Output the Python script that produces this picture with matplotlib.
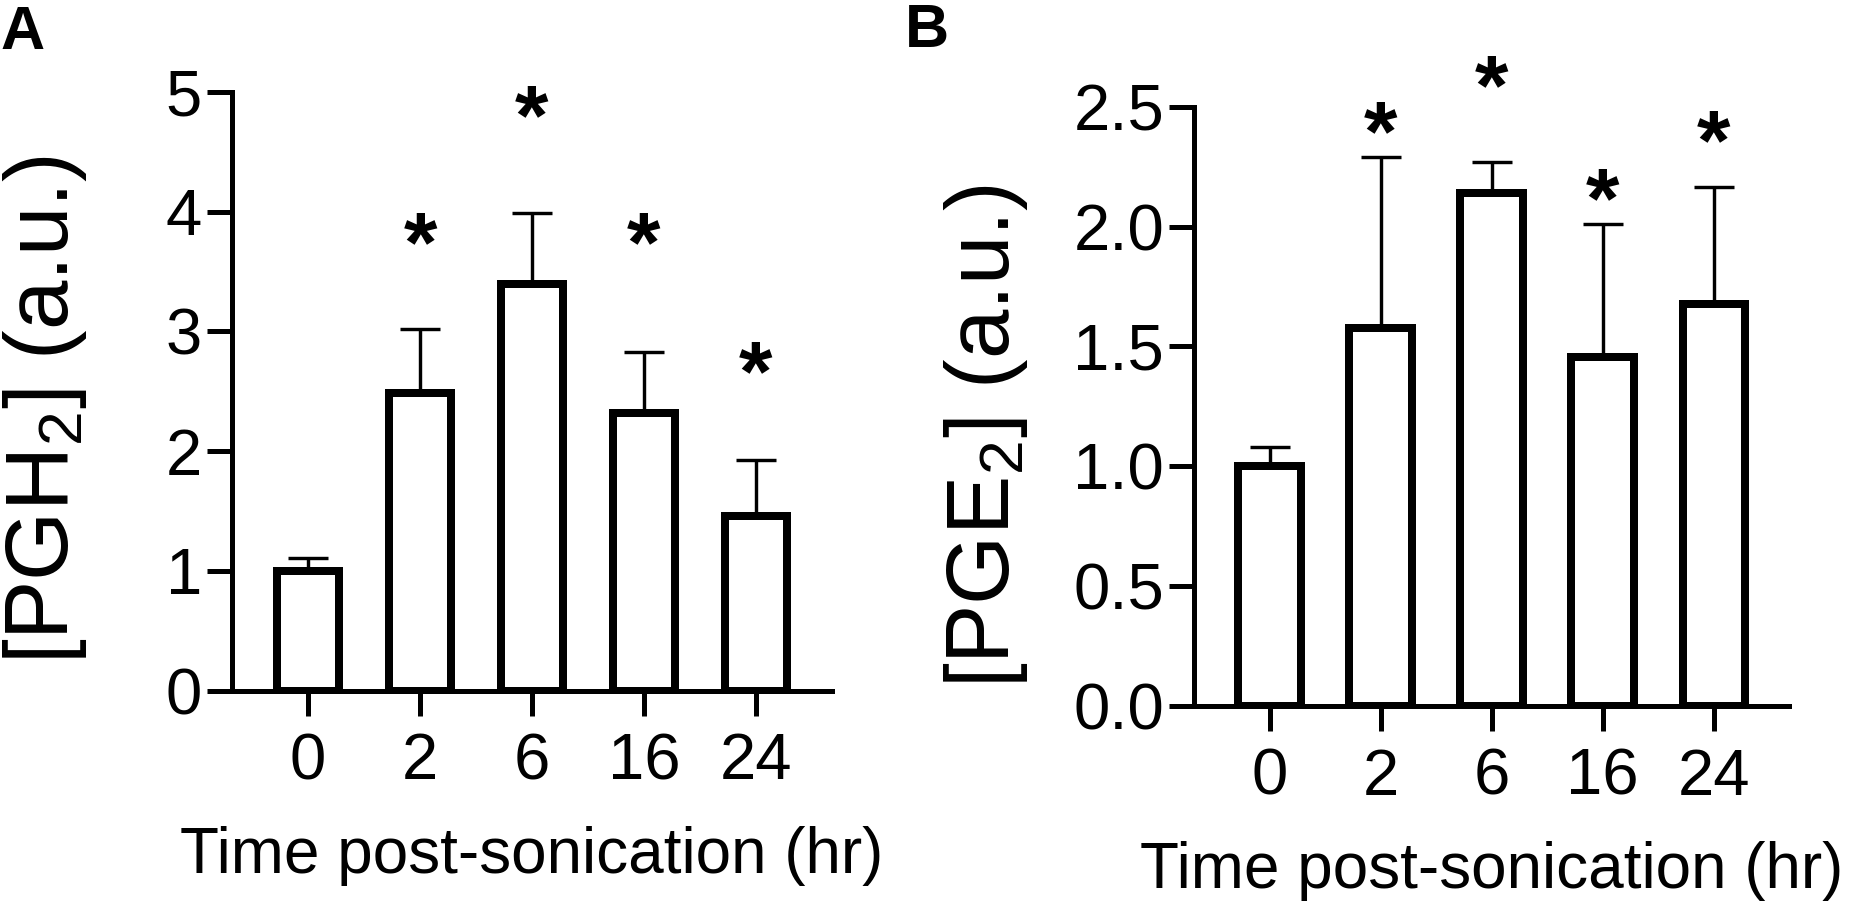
import numpy as np
import matplotlib
matplotlib.use('Agg')
import matplotlib.pyplot as plt
from matplotlib.transforms import offset_copy

plt.rcParams['font.family'] = ['Liberation Sans', 'DejaVu Sans']
plt.rcParams['mathtext.fontset'] = 'custom'
plt.rcParams['mathtext.rm'] = 'Liberation Sans'

# data
time_labels = ['0', '2', '6', '16', '24']

pgh2_mean = [1.00, 2.49, 3.40, 2.32, 1.46]
pgh2_err = [0.11, 0.53, 0.59, 0.51, 0.47]
pgh2_star = [None, 3.85, 4.91, 3.85, 2.77]

pge2_mean = [1.00, 1.575, 2.14, 1.457, 1.675]
pge2_err = [0.08, 0.715, 0.13, 0.553, 0.49]
pge2_star = [None, 2.45, 2.64, 2.17, 2.41]

DPI = 100
PX = 72.0 / DPI  # points per pixel

fig = plt.figure(figsize=(18.53, 9.10), dpi=DPI)
axA = fig.add_axes([0.1252, 0.2410, 0.3238, 0.6579])
axB = fig.add_axes([0.6444, 0.2242, 0.3211, 0.6585])


def draw_panel(ax, means, errs, stars, ylim, yticks, yfmt, ylabel, label_xy):
    x = np.arange(len(means))
    ax.errorbar(x, means, yerr=[np.zeros(len(errs)), errs], fmt='none',
                ecolor='black', elinewidth=3.4 * PX, capsize=20 * PX,
                capthick=3.4 * PX, zorder=1)
    ax.bar(x, means, width=0.56, color='white', edgecolor='black',
           linewidth=8 * PX, zorder=2)

    # significance stars, glyph centre placed on the value
    star_fs = 62
    tr = offset_copy(ax.transData, fig=fig, y=-0.48 * star_fs, units='points')
    for xi, s in zip(x, stars):
        if s is not None:
            ax.text(xi, s, '*', ha='center', va='baseline', fontsize=star_fs,
                    fontweight='bold', transform=tr, zorder=3)

    ax.set_xlim(-0.68, len(means) - 1 + 0.68)
    ax.set_ylim(*ylim)
    ax.set_xticks(x)
    ax.set_xticklabels(time_labels)
    ax.set_yticks(yticks)
    ax.set_yticklabels([yfmt.format(v) for v in yticks])

    for side in ['top', 'right']:
        ax.spines[side].set_visible(False)
    for side in ['left', 'bottom']:
        ax.spines[side].set_linewidth(5 * PX)
        ax.spines[side].set_capstyle('projecting')
    ax.tick_params(axis='both', length=25 * PX, width=5 * PX,
                   labelsize=47, direction='out')
    ax.tick_params(axis='y', pad=3.5)
    ax.tick_params(axis='x', pad=12)

    ax.set_xlabel('Time post-sonication (hr)', fontsize=46, labelpad=24)
    ax.set_ylabel(ylabel, fontsize=64)
    ax.yaxis.set_label_coords(*label_xy)


draw_panel(axA, pgh2_mean, pgh2_err, pgh2_star, (0, 5), [0, 1, 2, 3, 4, 5],
           '{:.0f}', r'[PGH$_\mathregular{2}$] (a.u.)', (-0.238, 0.47))
draw_panel(axB, pge2_mean, pge2_err, pge2_star, (0, 2.5),
           [0.0, 0.5, 1.0, 1.5, 2.0, 2.5], '{:.1f}',
           r'[PGE$_\mathregular{2}$] (a.u.)', (-0.276, 0.45))

fig.text(0.0, 0.946, 'A', fontsize=44, fontweight='bold', va='baseline')
fig.text(0.4885, 0.948, 'B', fontsize=44, fontweight='bold', va='baseline')

fig.savefig('out.png', dpi=DPI, facecolor='white')
